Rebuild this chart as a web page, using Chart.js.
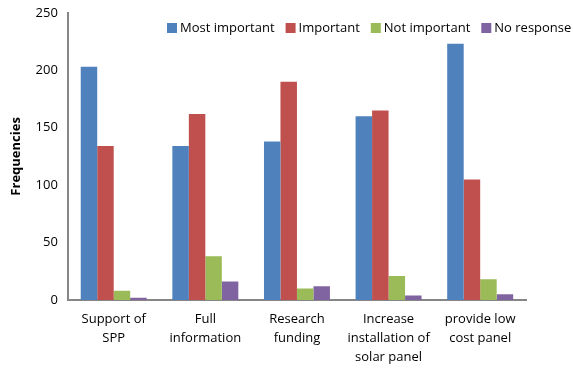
<!DOCTYPE html>
<html>
<head>
<meta charset="utf-8">
<script src="https://cdn.jsdelivr.net/npm/chart.js@4.4.0/dist/chart.umd.min.js"></script>
<style>
  html, body { margin: 0; padding: 0; background: #fff; }
  #wrap { width: 573px; height: 368px; }
</style>
</head>
<body>
<div id="wrap"><canvas id="chart" width="573" height="368"></canvas></div>
<script>
const categories = [
  ["Support of", "SPP"],
  ["Full", "information"],
  ["Research", "funding"],
  ["Increase", "installation of", "solar panel"],
  ["provide low", "cost panel"]
];
const seriesNames = ["Most important", "Important", "Not important", "No response"];
const mostImportant = [203, 134, 138, 160, 223];
const important = [134, 162, 190, 165, 105];
const notImportant = [8, 38, 10, 21, 18];
const noResponse = [2, 16, 12, 4, 5];
const colors = ["#4F81BD", "#C0504D", "#9BBB59", "#8064A2"];
const yTicks = [0, 50, 100, 150, 200, 250];

const FONT = "'Open Sans', 'Liberation Sans', sans-serif";

// legend drawn inside the plot, top right, like the original
const insideLegend = {
  id: "insideLegend",
  afterDraw(chart) {
    const ctx = chart.ctx;
    ctx.save();
    ctx.font = "13px " + FONT;
    ctx.textBaseline = "middle";
    let x = 167;
    const y = 28;
    chart.data.datasets.forEach((ds) => {
      ctx.fillStyle = ds.backgroundColor;
      ctx.fillRect(x, y - 5, 10, 10);
      x += 13;
      ctx.fillStyle = "#000";
      ctx.fillText(ds.label, x, y);
      x += ctx.measureText(ds.label).width + 11;
    });
    ctx.restore();
  }
};

const values = [mostImportant, important, notImportant, noResponse];

new Chart(document.getElementById("chart"), {
  type: "bar",
  data: {
    labels: categories,
    datasets: seriesNames.map((name, i) => ({
      label: name,
      data: values[i],
      backgroundColor: colors[i],
      borderWidth: 0
    }))
  },
  options: {
    responsive: false,
    animation: false,
    layout: { padding: { left: 8, right: 47, top: 12, bottom: 0 } },
    datasets: { bar: { categoryPercentage: 0.72, barPercentage: 1 } },
    plugins: {
      legend: { display: false },
      tooltip: { enabled: false }
    },
    scales: {
      x: {
        afterFit: (axis) => { axis.height = 68; },
        grid: { display: false, drawTicks: false },
        border: { color: "#868686", width: 2 },
        ticks: {
          color: "#000",
          font: { family: FONT, size: 13, lineHeight: 1.45 },
          padding: 10,
          maxRotation: 0,
          autoSkip: false
        }
      },
      y: {
        min: 0,
        max: 250,
        afterBuildTicks: (axis) => { axis.ticks = yTicks.map((v) => ({ value: v })); },
        grid: { display: false, drawOnChartArea: false, drawTicks: true, tickLength: 5, tickColor: "#868686" },
        border: { color: "#868686", width: 2 },
        ticks: {
          color: "#000",
          font: { family: FONT, size: 13 },
          padding: 5
        },
        title: {
          display: true,
          text: "Frequencies",
          color: "#000",
          font: { family: FONT, size: 13, weight: "bold" },
          padding: { top: 0, bottom: 7 }
        }
      }
    }
  },
  plugins: [insideLegend]
});
</script>
</body>
</html>
